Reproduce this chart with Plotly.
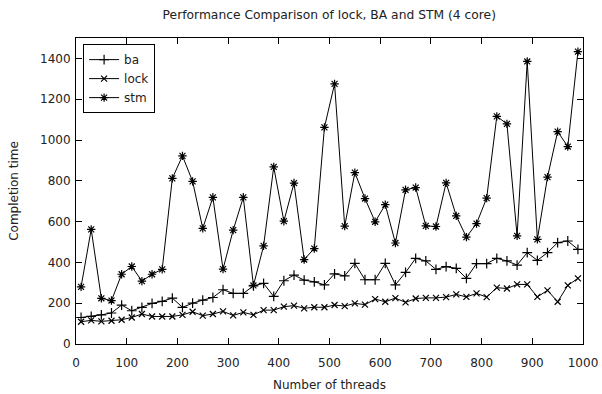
import plotly.graph_objects as go

threads = [10, 30, 50, 70, 90, 110, 130, 150, 170, 190,
           210, 230, 250, 270, 290, 310, 330, 350, 370, 390,
           410, 430, 450, 470, 490, 510, 530, 550, 570, 590,
           610, 630, 650, 670, 690, 710, 730, 750, 770, 790,
           810, 830, 850, 870, 890, 910, 930, 950, 970, 990]

ba = [130, 135, 143, 152, 191, 163, 180, 199, 209, 225,
      180, 200, 215, 228, 266, 248, 248, 285, 297, 233,
      310, 338, 313, 305, 290, 344, 334, 395, 315, 315,
      395, 290, 351, 420, 407, 366, 379, 371, 322, 394,
      394, 420, 407, 387, 448, 410, 448, 497, 505, 464]

lock = [109, 116, 111, 114, 119, 130, 147, 135, 135, 135,
        143, 158, 139, 147, 160, 140, 155, 143, 166, 166,
        183, 188, 175, 180, 180, 191, 186, 199, 193, 220,
        207, 225, 204, 223, 226, 226, 230, 243, 231, 248,
        230, 276, 272, 292, 292, 231, 263, 207, 287, 322]

stm = [280, 562, 224, 213, 342, 380, 308, 342, 366, 812,
       922, 797, 567, 719, 367, 558, 719, 287, 481, 868,
       602, 789, 414, 468, 1062, 1275, 578, 840, 713, 599,
       683, 495, 756, 767, 579, 576, 790, 628, 524, 590,
       715, 1116, 1079, 530, 1385, 513, 818, 1041, 968, 1433]

x_ticks = [0, 100, 200, 300, 400, 500, 600, 700, 800, 900, 1000]
y_ticks = [0, 200, 400, 600, 800, 1000, 1200, 1400]

FONT = "DejaVu Sans"
series = [("ba", ba, "cross-thin", 7), ("lock", lock, "x-thin", 6), ("stm", stm, "asterisk", 7)]

fig = go.Figure()
for name, vals, sym, sz in series:
    fig.add_trace(go.Scatter(
        x=threads, y=vals, name=name, mode="lines+markers",
        line=dict(color="black", width=1),
        marker=dict(symbol=sym, size=sz, color="black",
                    line=dict(color="black", width=1.2)),
    ))

axis_common = dict(
    showgrid=False, zeroline=False, showline=True, linecolor="black",
    linewidth=1, mirror="allticks", ticks="inside", ticklen=6,
    tickcolor="black", tickfont=dict(family=FONT, size=12, color="#222"),
    automargin=False,
)

fig.update_layout(
    width=602, height=394,
    margin=dict(l=76, r=19, t=38, b=50),
    paper_bgcolor="white", plot_bgcolor="white",
    title=dict(text="Performance Comparison of lock, BA and STM (4 core)",
               x=0.547, xanchor="center", y=0.963, yanchor="middle",
               font=dict(family=FONT, size=12.3, color="#222")),
    xaxis=dict(range=[0, 1000], tickvals=x_ticks, ticklabelstandoff=8,
               title=dict(text="Number of threads", standoff=11,
                          font=dict(family=FONT, size=12, color="#222")),
               **axis_common),
    yaxis=dict(range=[0, 1500], tickvals=y_ticks, ticklabelstandoff=2,
               title=dict(text="Completion time", standoff=18,
                          font=dict(family=FONT, size=12, color="#222")),
               **axis_common),
    legend=dict(x=0.014, y=0.98, xanchor="left", yanchor="top",
                bgcolor="white", bordercolor="black", borderwidth=1,
                font=dict(family=FONT, size=12, color="#222"),
                tracegroupgap=0, itemwidth=30),
    showlegend=True,
)

fig.write_html("out.html")
